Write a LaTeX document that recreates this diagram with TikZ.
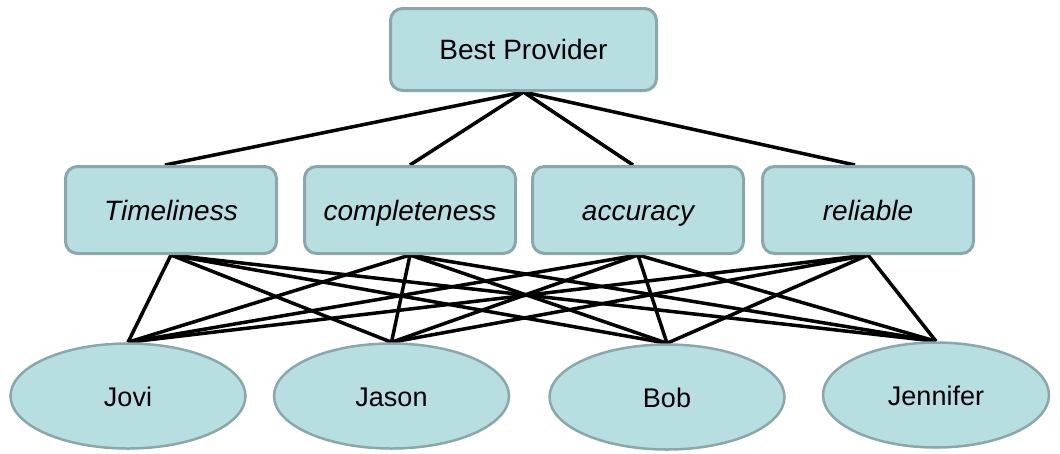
\documentclass[tikz,border=0pt]{standalone}
\usepackage{fontspec}
\setmainfont{Liberation Sans}
\usetikzlibrary{shapes.geometric}
\pgfdeclarelayer{bg}
\pgfsetlayers{bg,main}
\definecolor{boxfill}{RGB}{183,222,225}
\definecolor{boxline}{RGB}{138,168,170}
\tikzset{
  txt/.style={text height=22pt, text depth=2pt},
  rbox/.style={draw=boxline, fill=boxfill, line width=3pt, rounded corners=12pt, inner sep=0pt, txt, font=\fontsize{28}{32}\selectfont},
  goalbox/.style={rbox, minimum width=266pt, minimum height=82pt},
  crit/.style={rbox, minimum width=211pt, minimum height=87pt, font=\fontsize{28}{32}\selectfont\itshape},
  person/.style={ellipse, draw=boxline, fill=boxfill, line width=2.5pt, inner sep=0pt, txt, minimum width=235pt, minimum height=105pt, font=\fontsize{27}{32}\selectfont},
  link/.style={line width=3.5pt, black}
}
\begin{document}
\begin{tikzpicture}[x=1pt,y=-1pt]
\useasboundingbox (0,0) rectangle (1060,453);
\node[goalbox] (top) at (523.5,49.5) {Best Provider};
\node[crit] (t) at (171,210) {Timeliness};
\node[crit] (c) at (410,210) {completeness};
\node[crit] (a) at (638,210) {accuracy};
\node[crit] (r) at (868,210) {reliable};
\node[person] (jovi) at (128,396) {Jovi};
\node[person] (jason) at (391.5,396) {Jason};
\node[person] (bob) at (667,397) {Bob};
\node[person, minimum width=226pt] (jen) at (936,395) {Jennifer};
\begin{pgfonlayer}{bg}
  \draw[link] (top.south) -- ([xshift=-6pt]t.north);
  \draw[link] (top.south) -- (c.north);
  \draw[link] (top.south) -- ([xshift=-5pt]a.north);
  \draw[link] (top.south) -- ([xshift=-13pt]r.north);
  \foreach \m in {t,c,a,r}
    \foreach \p in {jovi,jason,bob,jen}
      \draw[link] (\m.south) -- (\p.north);
\end{pgfonlayer}
\end{tikzpicture}
\end{document}
